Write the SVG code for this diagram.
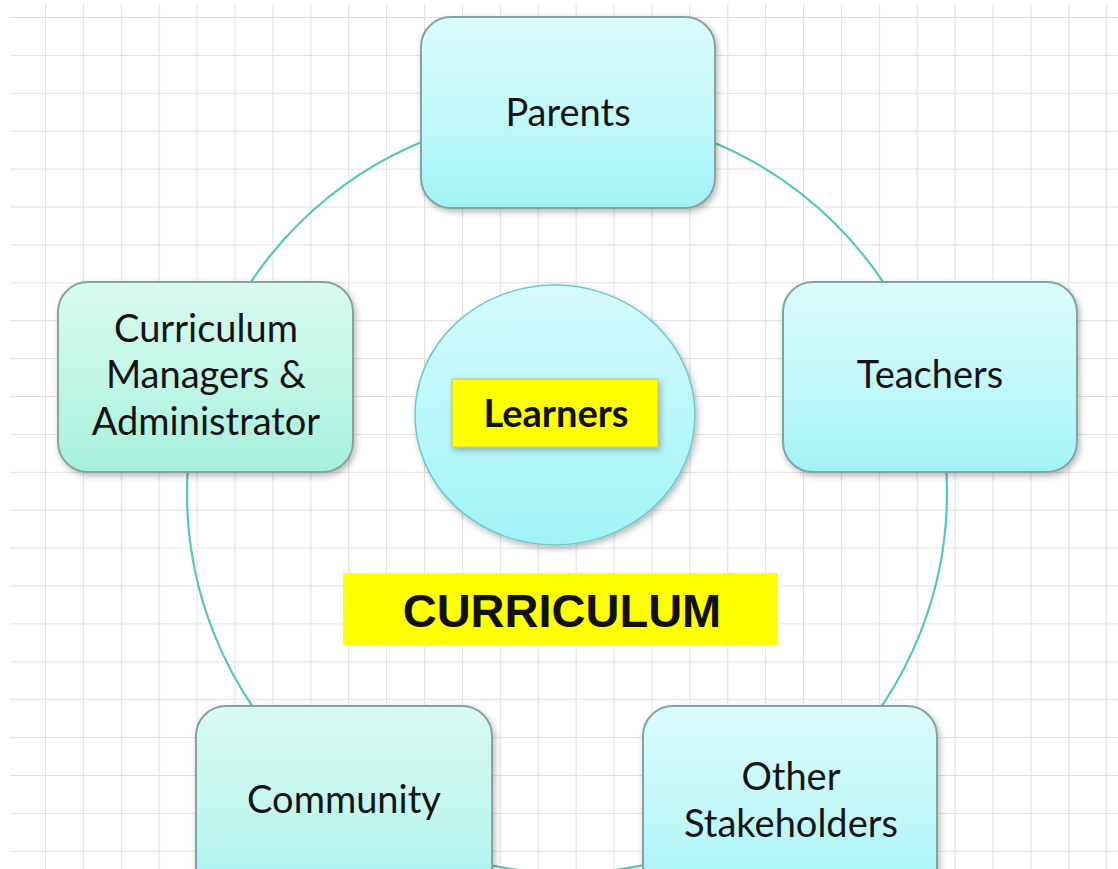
<svg xmlns="http://www.w3.org/2000/svg" width="1118" height="869" viewBox="0 0 1118 869">
  <defs>
    <pattern id="grid" x="45" y="17" width="37.9" height="37.9" patternUnits="userSpaceOnUse">
      <path d="M0 0 V37.9 M0 0 H37.9" fill="none" stroke="#e4dfdf" stroke-width="2.2"/>
    </pattern>
    <linearGradient id="gCyan" x1="0" y1="0" x2="0" y2="1">
      <stop offset="0" stop-color="#dafcfb"/>
      <stop offset="0.55" stop-color="#c2f8f8"/>
      <stop offset="1" stop-color="#a0f2f6"/>
    </linearGradient>
    <linearGradient id="gMint" x1="0" y1="0" x2="0" y2="1">
      <stop offset="0" stop-color="#d9fbf0"/>
      <stop offset="0.55" stop-color="#c0f6e6"/>
      <stop offset="1" stop-color="#a6f0dc"/>
    </linearGradient>
    <linearGradient id="gComm" x1="0" y1="0" x2="0" y2="1">
      <stop offset="0" stop-color="#d9fbf1"/>
      <stop offset="0.6" stop-color="#bff6ef"/>
      <stop offset="1" stop-color="#a2f2f0"/>
    </linearGradient>
    <linearGradient id="gBall" x1="0" y1="0" x2="0" y2="1">
      <stop offset="0" stop-color="#d6fbfc"/>
      <stop offset="1" stop-color="#a0f3f8"/>
    </linearGradient>
    <filter id="sh" x="-10%" y="-10%" width="125%" height="130%">
      <feDropShadow dx="2" dy="3" stdDeviation="3" flood-color="#000" flood-opacity="0.28"/>
    </filter>
    <style>
      .box { stroke: #86a3a3; stroke-width: 2; filter: url(#sh); }
      .lbl { font-family: Lato, "Open Sans", "Liberation Sans", sans-serif; font-size: 38px; fill: #141414; text-anchor: middle; }
      .ring { fill: none; stroke: #55c8b6; stroke-width: 2.2; }
      .hl { fill: #ffff00; }
    </style>
  </defs>

  <rect x="0" y="0" width="1118" height="869" fill="#ffffff"/>
  <rect x="10" y="4" width="1108" height="865" fill="url(#grid)"/>

  <g id="connectors">
    <circle class="ring" cx="567" cy="493" r="380"/>
  </g>

  <g id="parents">
    <rect class="box" x="421" y="17" width="294" height="191" rx="30" fill="url(#gCyan)"/>
    <text class="lbl" x="568" y="126">Parents</text>
  </g>

  <g id="curriculum-managers">
    <rect class="box" x="58" y="282" width="295" height="190" rx="30" fill="url(#gMint)"/>
    <text class="lbl" x="206" y="342">Curriculum</text>
    <text class="lbl" x="206" y="388">Managers &amp;</text>
    <text class="lbl" x="206" y="435">Administrator</text>
  </g>

  <g id="teachers">
    <rect class="box" x="783" y="282" width="294" height="190" rx="30" fill="url(#gCyan)"/>
    <text class="lbl" x="930" y="388">Teachers</text>
  </g>

  <g id="community">
    <rect class="box" x="196" y="706" width="296" height="200" rx="30" fill="url(#gComm)"/>
    <text class="lbl" x="344" y="813">Community</text>
  </g>

  <g id="other-stakeholders">
    <rect class="box" x="643" y="706" width="294" height="200" rx="30" fill="url(#gCyan)"/>
    <text class="lbl" x="791" y="790">Other</text>
    <text class="lbl" x="791" y="837">Stakeholders</text>
  </g>

  <g id="learners">
    <ellipse cx="555" cy="415" rx="140" ry="130" fill="url(#gBall)" stroke="#6cc9cc" stroke-width="1.5" filter="url(#sh)"/>
    <rect class="hl" x="452" y="379" width="206" height="68" stroke="#c8c060" stroke-width="1" filter="url(#sh)"/>
    <text x="556" y="427" font-family="Lato, 'Open Sans', 'Liberation Sans', sans-serif" font-weight="bold" font-size="38" fill="#111" text-anchor="middle">Learners</text>
  </g>

  <g id="curriculum">
    <rect class="hl" x="343" y="573" width="435" height="72"/>
    <text x="562" y="627" font-family="'Liberation Sans', Arial, sans-serif" font-weight="bold" font-size="47" fill="#111" text-anchor="middle">CURRICULUM</text>
  </g>
</svg>
